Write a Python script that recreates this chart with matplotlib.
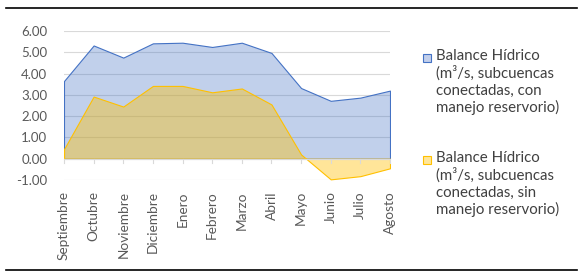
import matplotlib.pyplot as plt
import numpy as np
from matplotlib.lines import Line2D
from matplotlib.patches import Rectangle

months = ['Septiembre', 'Octubre', 'Noviembre', 'Diciembre', 'Enero', 'Febrero',
          'Marzo', 'Abril', 'Mayo', 'Junio', 'Julio', 'Agosto']
con_reservorio = [3.65, 5.32, 4.75, 5.42, 5.45, 5.25, 5.45, 4.97, 3.32, 2.72, 2.87, 3.20]
sin_reservorio = [0.45, 2.92, 2.45, 3.42, 3.42, 3.12, 3.30, 2.55, 0.20, -0.97, -0.82, -0.45]
yticks = [-1, 0, 1, 2, 3, 4, 5, 6]

plt.rcParams['font.family'] = ['Lato', 'DejaVu Sans']

W, H = 583, 277
fig = plt.figure(figsize=(W / 100, H / 100), dpi=100)
ax = fig.add_axes([64 / W, 1 - 180 / H, (390 - 64) / W, (180 - 31) / H])

x = np.arange(len(months))
blue = '#4472C4'
yellow = '#FFC000'

ax.fill_between(x, 0, con_reservorio, facecolor=(0.267, 0.447, 0.769, 0.33),
                edgecolor=blue, linewidth=0.8, zorder=2)
ax.fill_between(x, 0, sin_reservorio, facecolor=(1.0, 0.753, 0.0, 0.4),
                edgecolor=yellow, linewidth=0.8, zorder=3)

for v in yticks:
    if v != 0:
        ax.axhline(v, color='#D9D9D9', linewidth=0.8, zorder=1)
ax.axhline(0, color='#D9D9D9', linewidth=0.9, zorder=4)

ax.set_xlim(0, len(months) - 1)
ax.set_ylim(-1, 6)
ax.set_yticks(yticks)
ax.set_yticklabels([f'{v:.2f}' for v in yticks], color='#595959', fontsize=9.5)
ax.set_xticks(x)
ax.set_xticklabels(months, rotation=90, color='#595959', fontsize=9.8)
ax.tick_params(axis='y', length=0, pad=12)
ax.tick_params(axis='x', length=0, pad=8)
for s in ax.spines.values():
    s.set_visible(False)

# category tick marks on the zero line
for xi in x:
    ax.plot([xi, xi], [0, -0.2], color='#D9D9D9', linewidth=0.8, zorder=4, clip_on=False)

# rules above and below
fig.add_artist(Line2D([6 / W, 577 / W], [1 - 8 / H, 1 - 8 / H], color='black', linewidth=1.2))
fig.add_artist(Line2D([6 / W, 577 / W], [1 - 270 / H, 1 - 270 / H], color='black', linewidth=1.2))

# legend
legend_items = [
    (58, (0.76, 0.81, 0.92), blue,
     'Balance Hídrico\n(m³/s, subcuencas\nconectadas, con\nmanejo reservorio)'),
    (160, (1.0, 0.90, 0.60), yellow,
     'Balance Hídrico\n(m³/s, subcuencas\nconectadas, sin\nmanejo reservorio)'),
]
for ytop, fc, ec, label in legend_items:
    fig.add_artist(Rectangle((423 / W, 1 - (ytop + 4) / H), 8 / W, 8 / H,
                             facecolor=fc, edgecolor=ec, linewidth=0.8))
    fig.text(436 / W, 1 - (ytop - 9) / H, label, fontsize=10.8, color='#404040',
             va='top', ha='left', linespacing=1.22)

fig.savefig('out.png', dpi=100)
